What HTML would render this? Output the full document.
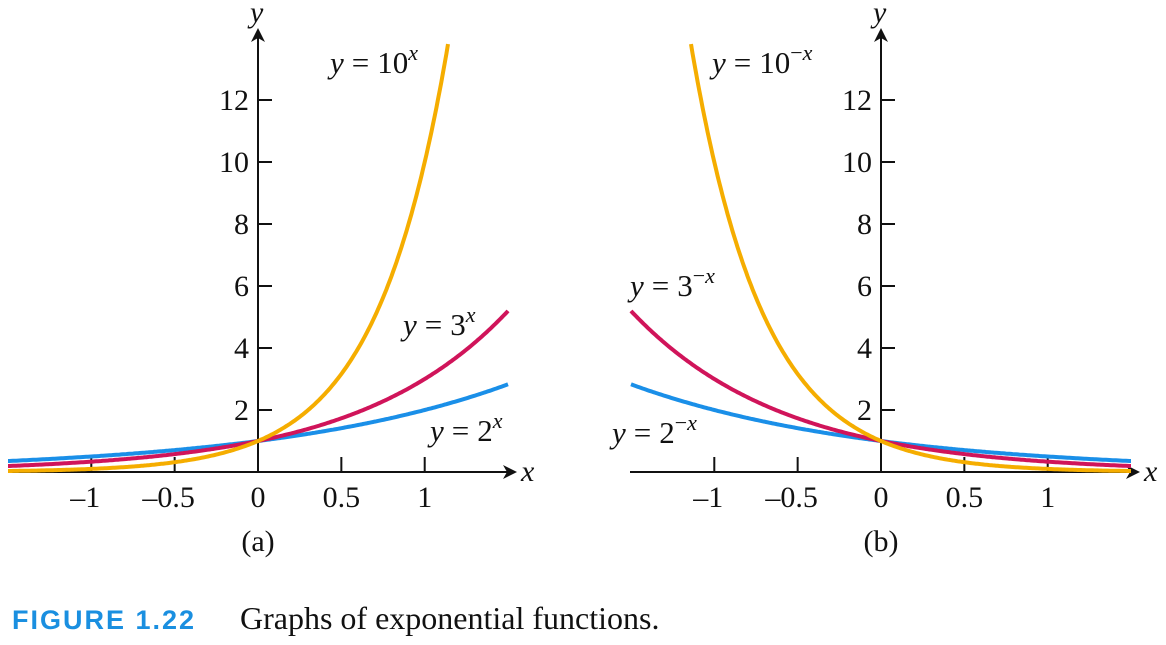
<!DOCTYPE html>
<html><head><meta charset="utf-8"><style>
body{margin:0;background:#fff;width:1166px;height:640px;overflow:hidden}
svg text{font-family:"Liberation Serif",serif;fill:#111}
</style></head><body>
<svg id="s" width="1166" height="640" xmlns="http://www.w3.org/2000/svg">
<defs><marker id="ar" markerWidth="16" markerHeight="16" refX="12" refY="7" orient="auto" markerUnits="userSpaceOnUse"><path d="M0,0 L14,7 L0,14 L4,7Z" fill="#111"/></marker></defs>
<g id="a"></g>
<text x="12" y="629" style="font-family:'Liberation Sans',sans-serif;font-weight:bold;font-size:27px;fill:#1a8fe0;letter-spacing:2px">FIGURE 1.22</text>
<text x="240" y="629" font-size="32">Graphs of exponential functions.</text>
</svg>
<script>
const g=document.getElementById('a');let h='';
const Y0=472,SY=31,SX=166.7;
function panel(ox,x0,x1,sign,labels,tlab){
 h+=`<line x1="${x0}" y1="${Y0}" x2="${x1}" y2="${Y0}" stroke="#111" stroke-width="2" marker-end="url(#ar)"/>`;
 h+=`<line x1="${ox}" y1="${Y0}" x2="${ox}" y2="30" stroke="#111" stroke-width="2" marker-end="url(#ar)"/>`;
 h+=`<text x="${x1+6}" y="${Y0+9}" font-size="30" font-style="italic">x</text>`;
 h+=`<text x="${ox-8}" y="22" font-size="30" font-style="italic">y</text>`;
 for(let v of [-1,-0.5,0.5,1]){const px=ox+v*SX;h+=`<line x1="${px}" y1="${Y0-15}" x2="${px}" y2="${Y0}" stroke="#111" stroke-width="2"/>`;}
 for(let v of [-1,-0.5,0,0.5,1]){const px=ox+v*SX;const t=(v<0?'\u2013':'')+Math.abs(v);h+=`<text x="${px-(v<0?6:0)}" y="${Y0+35}" font-size="30" text-anchor="middle">${t}</text>`;}
 for(let v of [2,4,6,8,10,12]){const py=Y0-v*SY;h+=`<line x1="${ox}" y1="${py}" x2="${ox+14}" y2="${py}" stroke="#111" stroke-width="2"/><text x="${ox-9}" y="${py+10}" font-size="30" text-anchor="end">${v}</text>`;}
 const cs=[[2,'#1a8fe8'],[3,'#d0145a'],[10,'#f5ad00']];
 for(const [b,c] of cs){let d='';for(let i=0;i<=300;i++){const x=-1.5+3*i/300;const y=Math.pow(b,sign*x);if(y>14.05)continue;d+=(d?'L':'M')+(ox+x*SX).toFixed(1)+','+(Y0-y*SY).toFixed(1);}
  h+=`<path d="${d}" fill="none" stroke="${c}" stroke-width="4"/>`;}
 h+=labels;
 h+=`<text x="${ox}" y="551" font-size="30" text-anchor="middle">${tlab}</text>`;
}
const sup=(e)=>`<tspan font-size="22" dy="-13">${e}</tspan>`;
const eq=`<tspan font-style="italic">y</tspan><tspan dx="8">=</tspan><tspan dx="8">`;
panel(258,8,515,1,
 `<text x="330" y="73" font-size="31">${eq}10</tspan>${sup('<tspan font-style="italic">x</tspan>')}</text>
 <text x="403" y="335" font-size="31">${eq}3</tspan>${sup('<tspan font-style="italic">x</tspan>')}</text>
 <text x="430" y="441" font-size="31">${eq}2</tspan>${sup('<tspan font-style="italic">x</tspan>')}</text>`,'(a)');
panel(881,630,1138,-1,
 `<text x="712" y="73" font-size="31">${eq}10</tspan>${sup('\u2212<tspan font-style="italic">x</tspan>')}</text>
 <text x="630" y="296" font-size="31">${eq}3</tspan>${sup('\u2212<tspan font-style="italic">x</tspan>')}</text>
 <text x="612" y="443" font-size="31">${eq}2</tspan>${sup('\u2212<tspan font-style="italic">x</tspan>')}</text>`,'(b)');
g.innerHTML=h;
</script>
</body></html>
